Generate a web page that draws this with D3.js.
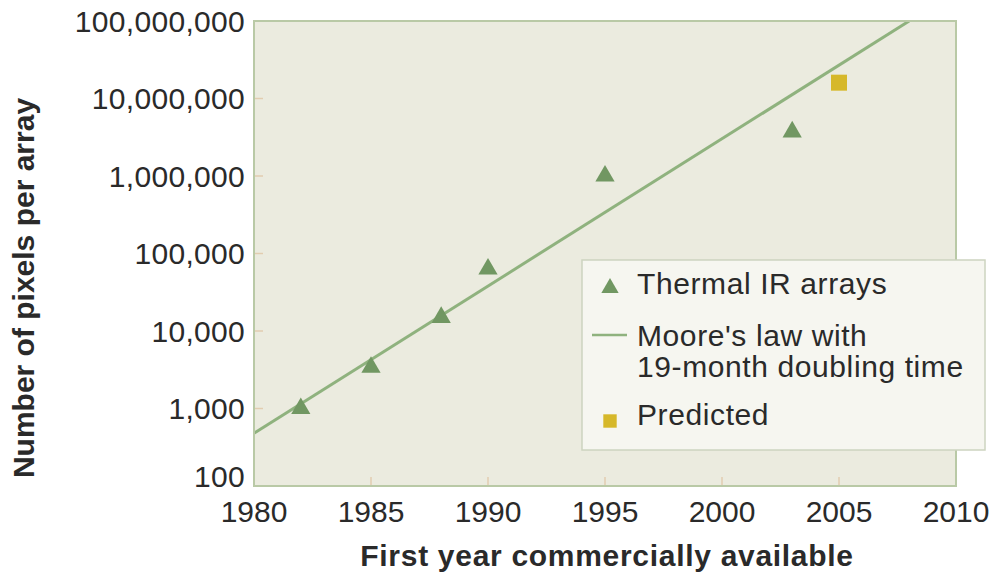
<!DOCTYPE html>
<html>
<head>
<meta charset="utf-8">
<script src="https://cdn.jsdelivr.net/npm/d3@7/dist/d3.min.js"></script>
<style>
  html, body { margin: 0; padding: 0; background: #fff; }
  svg { display: block; font-family: "Liberation Sans", Arial, Helvetica, sans-serif; }
</style>
</head>
<body>
<svg id="chart" width="990" height="574"></svg>
<script>
// Thermal IR focal-plane arrays: first year commercially available vs pixel count
const irYears = [1982, 1985, 1988, 1990, 1995, 2003];
const irPixels = [1000, 3400, 15000, 63000, 1000000, 3700000];

const predictedYears = [2005];
const predictedPixels = [16000000];

// Moore's law trend (19-month doubling), given by its two end points
const mooreYears = [1980, 2008];
const moorePixels = [480, 100000000];

const xTicks = [1980, 1985, 1990, 1995, 2000, 2005, 2010];
const yTicks = [100, 1000, 10000, 100000, 1000000, 10000000, 100000000];

const legendLabels = ["Thermal IR arrays", "Moore's law with", "19-month doubling time", "Predicted"];

const colors = {
  plotBg: "#ebebdf",
  frame: "#b9c9a6",
  tick: "#e2cdb0",
  trend: "#8fb27e",
  marker: "#719762",
  predicted: "#d6b82a",
  legendBg: "#f6f6f0",
  legendBorder: "#cdd4c0",
  text: "#2a2a2a"
};

const svg = d3.select("#chart");
const plot = { left: 254, right: 956, top: 21, bottom: 486 };

const x = d3.scaleLinear().domain([1980, 2010]).range([plot.left, plot.right]);
const y = d3.scaleLog().domain([100, 100000000]).range([plot.bottom, plot.top]);

// plot background
svg.append("rect")
  .attr("x", plot.left).attr("y", plot.top)
  .attr("width", plot.right - plot.left).attr("height", plot.bottom - plot.top)
  .attr("fill", colors.plotBg);

// inner tick marks
const tickG = svg.append("g").attr("stroke", colors.tick).attr("stroke-width", 1.5);
tickG.selectAll("line.xt").data(xTicks.slice(1, -1)).join("line")
  .attr("x1", d => x(d)).attr("x2", d => x(d))
  .attr("y1", plot.bottom).attr("y2", plot.bottom - 9);
tickG.selectAll("line.yt").data(yTicks.slice(1, -1)).join("line")
  .attr("x1", plot.left).attr("x2", plot.left + 9)
  .attr("y1", d => y(d)).attr("y2", d => y(d));

// clipped trend line
svg.append("clipPath").attr("id", "plotClip")
  .append("rect")
  .attr("x", plot.left).attr("y", plot.top)
  .attr("width", plot.right - plot.left).attr("height", plot.bottom - plot.top);

const trendLine = d3.line().x(d => x(d[0])).y(d => y(d[1]));
svg.append("path")
  .datum(d3.zip(mooreYears, moorePixels))
  .attr("clip-path", "url(#plotClip)")
  .attr("d", trendLine)
  .attr("fill", "none")
  .attr("stroke", colors.trend)
  .attr("stroke-width", 3);

// frame
svg.append("rect")
  .attr("x", plot.left).attr("y", plot.top)
  .attr("width", plot.right - plot.left).attr("height", plot.bottom - plot.top)
  .attr("fill", "none")
  .attr("stroke", colors.frame)
  .attr("stroke-width", 2);

// data markers
const tri = d3.symbol().type(d3.symbolTriangle).size(160);
svg.append("g").selectAll("path")
  .data(d3.zip(irYears, irPixels)).join("path")
  .attr("transform", d => `translate(${x(d[0])},${y(d[1])})`)
  .attr("d", tri)
  .attr("fill", colors.marker);

const sq = d3.symbol().type(d3.symbolSquare).size(256);
svg.append("g").selectAll("path")
  .data(d3.zip(predictedYears, predictedPixels)).join("path")
  .attr("transform", d => `translate(${x(d[0])},${y(d[1])})`)
  .attr("d", sq)
  .attr("fill", colors.predicted);

// axis labels
const fmt = d3.format(",");
svg.append("g").selectAll("text")
  .data(yTicks).join("text")
  .attr("x", plot.left - 9)
  .attr("y", d => y(d) + (d === 100 ? -10 : 0))
  .attr("dy", "0.36em")
  .attr("text-anchor", "end")
  .attr("font-size", 30)
  .attr("letter-spacing", 0.3)
  .attr("fill", colors.text)
  .text(d => fmt(d));

svg.append("g").selectAll("text")
  .data(xTicks).join("text")
  .attr("x", d => x(d))
  .attr("y", 522)
  .attr("text-anchor", "middle")
  .attr("font-size", 30)
  .attr("fill", colors.text)
  .text(d => d);

svg.append("text")
  .attr("x", 607).attr("y", 566)
  .attr("text-anchor", "middle")
  .attr("font-size", 30)
  .attr("font-weight", "bold")
  .attr("letter-spacing", 0.7)
  .attr("fill", colors.text)
  .text("First year commercially available");

svg.append("text")
  .attr("transform", "translate(34,288) rotate(-90)")
  .attr("text-anchor", "middle")
  .attr("font-size", 30)
  .attr("font-weight", "bold")
  .attr("fill", colors.text)
  .text("Number of pixels per array");

// legend
const lg = svg.append("g");
lg.append("rect")
  .attr("x", 582).attr("y", 260).attr("width", 403).attr("height", 190)
  .attr("fill", colors.legendBg)
  .attr("stroke", colors.legendBorder)
  .attr("stroke-width", 1.5);

lg.append("path")
  .attr("transform", "translate(610,288)")
  .attr("d", d3.symbol().type(d3.symbolTriangle).size(130)())
  .attr("fill", colors.marker);
lg.append("line")
  .attr("x1", 592).attr("x2", 627).attr("y1", 335).attr("y2", 335)
  .attr("stroke", colors.trend).attr("stroke-width", 2.5);
lg.append("path")
  .attr("transform", "translate(610,421)")
  .attr("d", d3.symbol().type(d3.symbolSquare).size(180)())
  .attr("fill", colors.predicted);

const legendY = [294, 346, 377, 425];
lg.selectAll("text.lab").data(legendLabels).join("text")
  .attr("x", 637)
  .attr("y", (d, i) => legendY[i])
  .attr("font-size", 30)
  .attr("letter-spacing", 0.6)
  .attr("fill", colors.text)
  .text(d => d);
</script>
</body>
</html>
